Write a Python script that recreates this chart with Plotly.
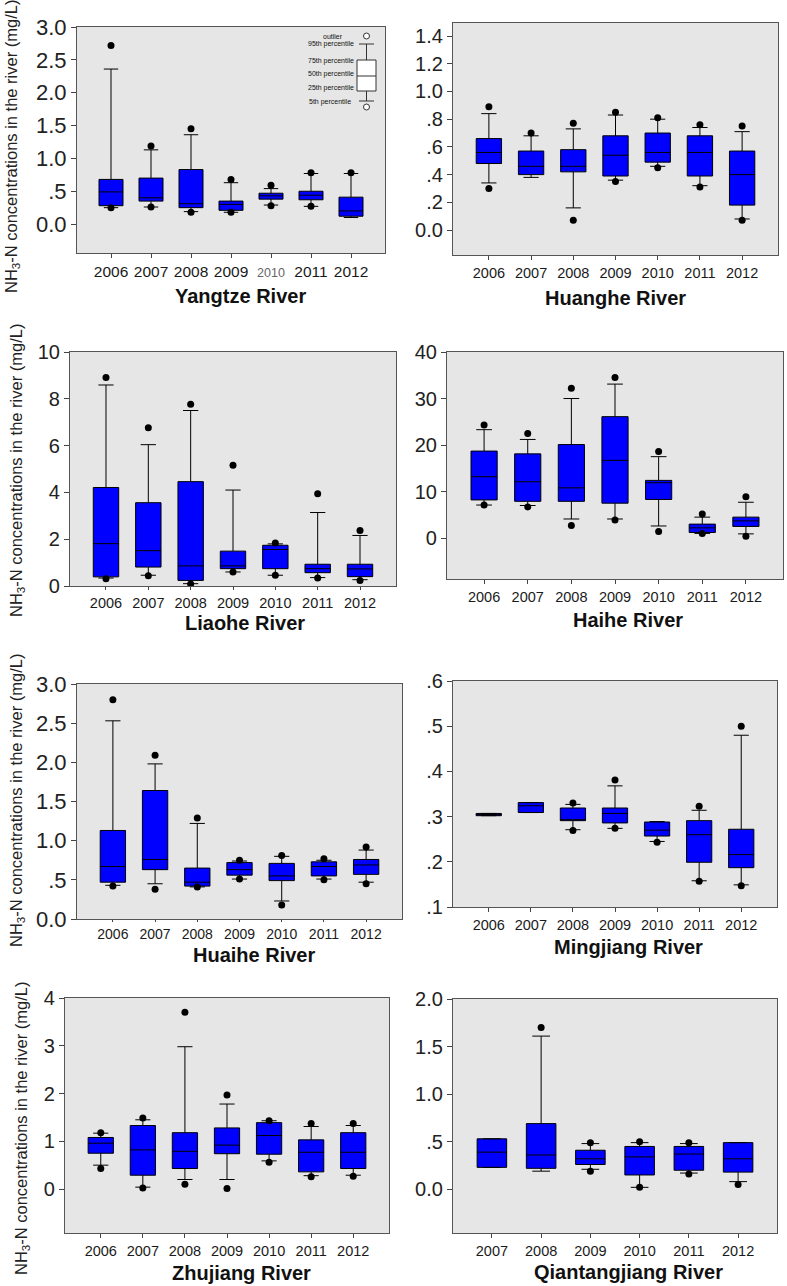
import plotly.graph_objects as go

W, H = 787, 1286

# ---------------- data ----------------
years7 = ["2006", "2007", "2008", "2009", "2010", "2011", "2012"]
years6 = ["2007", "2008", "2009", "2010", "2011", "2012"]

# Yangtze River
yangtze_p5 = [0.25, 0.26, 0.19, 0.18, 0.29, 0.27, 0.10]
yangtze_q1 = [0.28, 0.35, 0.25, 0.21, 0.38, 0.37, 0.12]
yangtze_med = [0.49, 0.40, 0.31, 0.30, 0.43, 0.44, 0.20]
yangtze_q3 = [0.68, 0.70, 0.83, 0.35, 0.47, 0.50, 0.41]
yangtze_p95 = [2.36, 1.13, 1.36, 0.63, 0.54, 0.77, 0.77]
yangtze_out_hi = [2.72, 1.19, 1.45, 0.68, 0.59, 0.78, 0.78]
yangtze_out_lo = [0.25, 0.26, 0.18, 0.18, 0.28, 0.27, None]

# Huanghe River
huanghe_p5 = [0.34, 0.38, 0.16, 0.36, 0.46, 0.32, 0.08]
huanghe_q1 = [0.48, 0.40, 0.42, 0.39, 0.49, 0.39, 0.18]
huanghe_med = [0.56, 0.46, 0.46, 0.54, 0.56, 0.56, 0.40]
huanghe_q3 = [0.66, 0.57, 0.58, 0.68, 0.70, 0.68, 0.57]
huanghe_p95 = [0.84, 0.68, 0.73, 0.83, 0.80, 0.74, 0.71]
huanghe_out_hi = [0.89, 0.70, 0.77, 0.85, 0.81, 0.76, 0.75]
huanghe_out_lo = [0.30, None, 0.07, 0.35, 0.45, 0.31, 0.07]

# Liaohe River
liaohe_p5 = [0.34, 0.46, 0.10, 0.60, 0.46, 0.36, 0.27]
liaohe_q1 = [0.39, 0.81, 0.24, 0.74, 0.74, 0.57, 0.40]
liaohe_med = [1.81, 1.51, 0.86, 0.86, 1.56, 0.74, 0.73]
liaohe_q3 = [4.21, 3.56, 4.46, 1.49, 1.74, 0.93, 0.93]
liaohe_p95 = [8.59, 6.04, 7.50, 4.10, 1.80, 3.14, 2.16]
liaohe_out_hi = [8.91, 6.76, 7.77, 5.16, 1.84, 3.94, 2.37]
liaohe_out_lo = [0.31, 0.44, 0.09, 0.60, 0.46, 0.34, 0.23]

# Haihe River
haihe_p5 = [7.1, 7.0, 4.1, 4.1, 2.6, 1.0, 0.9]
haihe_q1 = [8.2, 7.9, 7.9, 7.5, 8.3, 1.2, 2.5]
haihe_med = [13.2, 12.1, 10.8, 16.7, 11.9, 2.2, 3.7]
haihe_q3 = [18.7, 18.1, 20.1, 26.1, 12.4, 3.0, 4.5]
haihe_p95 = [23.3, 21.2, 30.0, 33.1, 17.5, 4.5, 7.7]
haihe_out_hi = [24.3, 22.5, 32.2, 34.5, 18.6, 5.2, 8.9]
haihe_out_lo = [7.1, 6.7, 2.7, 3.9, 1.4, 1.0, 0.4]

# Huaihe River
huaihe_p5 = [0.43, 0.45, 0.41, 0.51, 0.23, 0.51, 0.47]
huaihe_q1 = [0.47, 0.63, 0.42, 0.56, 0.49, 0.55, 0.57]
huaihe_med = [0.67, 0.76, 0.47, 0.63, 0.55, 0.67, 0.69]
huaihe_q3 = [1.13, 1.64, 0.65, 0.72, 0.71, 0.73, 0.76]
huaihe_p95 = [2.53, 1.98, 1.22, 0.74, 0.80, 0.75, 0.88]
huaihe_out_hi = [2.80, 2.09, 1.29, 0.75, 0.81, 0.77, 0.92]
huaihe_out_lo = [0.42, 0.38, 0.41, 0.51, 0.18, 0.50, 0.45]

# Mingjiang River
mingjiang_p5 = [0.302, 0.309, 0.271, 0.274, 0.245, 0.158, 0.149]
mingjiang_q1 = [0.302, 0.309, 0.291, 0.286, 0.257, 0.199, 0.187]
mingjiang_med = [0.305, 0.324, 0.292, 0.307, 0.270, 0.260, 0.216]
mingjiang_q3 = [0.307, 0.331, 0.319, 0.319, 0.288, 0.291, 0.272]
mingjiang_p95 = [0.307, 0.331, 0.327, 0.368, 0.289, 0.314, 0.480]
mingjiang_out_hi = [None, None, 0.330, 0.381, None, 0.323, 0.500]
mingjiang_out_lo = [None, None, 0.269, 0.274, 0.243, 0.157, 0.147]

# Zhujiang River
zhujiang_p5 = [0.50, 0.04, 0.20, 0.20, 0.59, 0.28, 0.29]
zhujiang_q1 = [0.75, 0.29, 0.43, 0.74, 0.73, 0.36, 0.43]
zhujiang_med = [0.96, 0.82, 0.79, 0.92, 1.12, 0.77, 0.77]
zhujiang_q3 = [1.08, 1.33, 1.18, 1.28, 1.39, 1.03, 1.18]
zhujiang_p95 = [1.17, 1.45, 2.98, 1.78, 1.43, 1.31, 1.33]
zhujiang_out_hi = [1.18, 1.49, 3.70, 1.97, 1.43, 1.37, 1.37]
zhujiang_out_lo = [0.43, 0.02, 0.10, 0.01, 0.56, 0.26, 0.27]

# Qiantangjiang River
qiantang_p5 = [0.23, 0.19, 0.21, 0.02, 0.17, 0.08]
qiantang_q1 = [0.23, 0.22, 0.26, 0.15, 0.20, 0.18]
qiantang_med = [0.39, 0.36, 0.32, 0.34, 0.37, 0.32]
qiantang_q3 = [0.53, 0.69, 0.41, 0.45, 0.45, 0.49]
qiantang_p95 = [0.53, 1.61, 0.48, 0.49, 0.48, 0.49]
qiantang_out_hi = [None, 1.70, 0.49, 0.50, 0.49, None]
qiantang_out_lo = [None, None, 0.19, 0.02, 0.16, 0.05]

# tick labels
yangtze_tickvals = [0, 0.5, 1.0, 1.5, 2.0, 2.5, 3.0]
yangtze_ticktext = ["0.0", ".5", "1.0", "1.5", "2.0", "2.5", "3.0"]
huanghe_tickvals = [0, 0.2, 0.4, 0.6, 0.8, 1.0, 1.2, 1.4]
huanghe_ticktext = ["0.0", ".2", ".4", ".6", ".8", "1.0", "1.2", "1.4"]
liaohe_tickvals = [0, 2, 4, 6, 8, 10]
liaohe_ticktext = ["0", "2", "4", "6", "8", "10"]
haihe_tickvals = [0, 10, 20, 30, 40]
haihe_ticktext = ["0", "10", "20", "30", "40"]
huaihe_tickvals = [0, 0.5, 1.0, 1.5, 2.0, 2.5, 3.0]
huaihe_ticktext = ["0.0", ".5", "1.0", "1.5", "2.0", "2.5", "3.0"]
mingjiang_tickvals = [0.1, 0.2, 0.3, 0.4, 0.5, 0.6]
mingjiang_ticktext = [".1", ".2", ".3", ".4", ".5", ".6"]
zhujiang_tickvals = [0, 1, 2, 3, 4]
zhujiang_ticktext = ["0", "1", "2", "3", "4"]
qiantang_tickvals = [0, 0.5, 1.0, 1.5, 2.0]
qiantang_ticktext = ["0.0", ".5", "1.0", "1.5", "2.0"]

ytitle = "NH<sub>3</sub>-N concentrations in the river (mg/L)"
legend_labels = ["outlier", "95th percentile", "75th percentile",
                 "50th percentile", "25th percentile", "5th percentile"]

FONT = "Arial, 'Liberation Sans', sans-serif"

panels = [
    dict(name="Yangtze River", x=years7, p5=yangtze_p5, q1=yangtze_q1, med=yangtze_med,
         q3=yangtze_q3, p95=yangtze_p95, hi=yangtze_out_hi, lo=yangtze_out_lo,
         tv=yangtze_tickvals, tt=yangtze_ticktext, xfs=15.5, tl=4,
         box=(77, 385, 27, 253), yr=[-0.44, 3.0], yfs=22, title_xy=(240, 296)),
    dict(name="Huanghe River", x=years7, p5=huanghe_p5, q1=huanghe_q1, med=huanghe_med,
         q3=huanghe_q3, p95=huanghe_p95, hi=huanghe_out_hi, lo=huanghe_out_lo,
         tv=huanghe_tickvals, tt=huanghe_ticktext, xfs=14.5, tl=4,
         box=(453, 778, 23, 255), yr=[-0.18, 1.494], yfs=20, title_xy=(615, 298)),
    dict(name="Liaohe River", x=years7, p5=liaohe_p5, q1=liaohe_q1, med=liaohe_med,
         q3=liaohe_q3, p95=liaohe_p95, hi=liaohe_out_hi, lo=liaohe_out_lo,
         tv=liaohe_tickvals, tt=liaohe_ticktext, xfs=14.5, tl=3,
         box=(70, 396, 352, 586), yr=[0, 10], yfs=20, title_xy=(245, 623)),
    dict(name="Haihe River", x=years7, p5=haihe_p5, q1=haihe_q1, med=haihe_med,
         q3=haihe_q3, p95=haihe_p95, hi=haihe_out_hi, lo=haihe_out_lo,
         tv=haihe_tickvals, tt=haihe_ticktext, xfs=14.5, tl=4,
         box=(447, 783, 352, 579), yr=[-8.8, 40], yfs=20, title_xy=(628, 620)),
    dict(name="Huaihe River", x=years7, p5=huaihe_p5, q1=huaihe_q1, med=huaihe_med,
         q3=huaihe_q3, p95=huaihe_p95, hi=huaihe_out_hi, lo=huaihe_out_lo,
         tv=huaihe_tickvals, tt=huaihe_ticktext, xfs=14, tl=2,
         box=(77, 402, 684, 919), yr=[0, 3.0], yfs=22, title_xy=(254, 955)),
    dict(name="Mingjiang River", x=years7, p5=mingjiang_p5, q1=mingjiang_q1, med=mingjiang_med,
         q3=mingjiang_q3, p95=mingjiang_p95, hi=mingjiang_out_hi, lo=mingjiang_out_lo,
         tv=mingjiang_tickvals, tt=mingjiang_ticktext, xfs=14.5, tl=4,
         box=(453, 777, 681, 907), yr=[0.1, 0.6], yfs=20, title_xy=(628, 947)),
    dict(name="Zhujiang River", x=years7, p5=zhujiang_p5, q1=zhujiang_q1, med=zhujiang_med,
         q3=zhujiang_q3, p95=zhujiang_p95, hi=zhujiang_out_hi, lo=zhujiang_out_lo,
         tv=zhujiang_tickvals, tt=zhujiang_ticktext, xfs=14.5, tl=4,
         box=(65, 389, 998, 1233), yr=[-0.92, 4], yfs=20, title_xy=(241, 1273)),
    dict(name="Qiantangjiang River", x=years6, p5=qiantang_p5, q1=qiantang_q1, med=qiantang_med,
         q3=qiantang_q3, p95=qiantang_p95, hi=qiantang_out_hi, lo=qiantang_out_lo,
         tv=qiantang_tickvals, tt=qiantang_ticktext, xfs=14.5, tl=4,
         box=(453, 777, 999, 1233), yr=[-0.46, 2.0], yfs=20, title_xy=(628, 1272)),
]


def px(x):
    return x / W


def py(y):
    return 1 - y / H


fig = go.Figure()
annotations = []
shapes = []

for i, p in enumerate(panels, start=1):
    xa = "x" if i == 1 else f"x{i}"
    ya = "y" if i == 1 else f"y{i}"
    fig.add_trace(go.Box(
        x=p["x"], q1=p["q1"], median=p["med"], q3=p["q3"],
        lowerfence=p["p5"], upperfence=p["p95"],
        xaxis=xa, yaxis=ya, width=0.6, whiskerwidth=0.6,
        fillcolor="#0000FF", line=dict(color="#000000", width=1),
        boxpoints=False, showlegend=False, hoverinfo="skip",
    ))
    ox = p["x"] + p["x"]
    oy = p["hi"] + p["lo"]
    fig.add_trace(go.Scatter(
        x=ox, y=oy, mode="markers", xaxis=xa, yaxis=ya,
        marker=dict(color="#000000", size=7), showlegend=False, hoverinfo="skip",
    ))
    x0, x1, y0, y1 = p["box"]
    n = len(p["x"])
    pad = 0.85 if n == 7 else 0.79
    tick_text = list(p["x"])
    if i == 1:
        tick_text = [t if t != "2010" else
                     "<span style='font-size:12.5px;fill:#666666'>2010</span>" for t in tick_text]
    fig.layout[f"xaxis{'' if i == 1 else i}"] = dict(
        domain=[px(x0), px(x1)], anchor=ya, type="category",
        range=[-pad, n - 1 + pad], tickmode="array", tickvals=p["x"], ticktext=tick_text,
        ticks="outside", ticklen=p["tl"], tickcolor="#444444",
        tickfont=dict(family=FONT, size=p["xfs"], color="#1a1a1a"),
        showline=True, mirror=True, linecolor="#555555", linewidth=1.2,
        showgrid=False, zeroline=False, fixedrange=True, automargin=False,
    )
    fig.layout[f"yaxis{'' if i == 1 else i}"] = dict(
        domain=[py(y1), py(y0)], anchor=xa, range=p["yr"],
        tickmode="array", tickvals=p["tv"], ticktext=p["tt"],
        ticks="outside", ticklen=5, tickcolor="#444444",
        tickfont=dict(family=FONT, size=p["yfs"], color="#222222"),
        showline=True, mirror=True, linecolor="#555555", linewidth=1.2,
        showgrid=False, zeroline=False, fixedrange=True, automargin=False,
    )
    tx, ty = p["title_xy"]
    annotations.append(dict(
        text=f"<b>{p['name']}</b>", x=px(tx), y=py(ty), xref="paper", yref="paper",
        showarrow=False, xanchor="center", yanchor="middle", borderpad=0,
        font=dict(family=FONT, size=20, color="#111111"),
    ))

# y-axis titles of left column
for (cx, cy) in [(12, 147), (17, 471), (17, 801), (22, 1129)]:
    annotations.append(dict(
        text=ytitle, x=px(cx), y=py(cy), xref="paper", yref="paper",
        showarrow=False, textangle=-90, xanchor="center", yanchor="middle",
        font=dict(family=FONT, size=16.5, color="#222222"),
    ))

# legend key (Yangtze panel)
kc = 366.5
lc = "#333333"
shapes += [
    dict(type="line", xref="paper", yref="paper", x0=px(kc), x1=px(kc), y0=py(44), y1=py(101),
         line=dict(color=lc, width=1)),
    dict(type="rect", xref="paper", yref="paper", x0=px(357), x1=px(376), y0=py(60), y1=py(91),
         line=dict(color=lc, width=1), fillcolor="#FFFFFF"),
    dict(type="line", xref="paper", yref="paper", x0=px(357), x1=px(376), y0=py(76), y1=py(76),
         line=dict(color=lc, width=1)),
    dict(type="line", xref="paper", yref="paper", x0=px(359), x1=px(374), y0=py(44), y1=py(44),
         line=dict(color=lc, width=1)),
    dict(type="line", xref="paper", yref="paper", x0=px(359), x1=px(374), y0=py(101), y1=py(101),
         line=dict(color=lc, width=1)),
    dict(type="circle", xref="paper", yref="paper", x0=px(kc - 3), x1=px(kc + 3),
         y0=py(39), y1=py(33), line=dict(color=lc, width=1), fillcolor="#FFFFFF"),
    dict(type="circle", xref="paper", yref="paper", x0=px(kc - 3), x1=px(kc + 3),
         y0=py(110), y1=py(104), line=dict(color=lc, width=1), fillcolor="#FFFFFF"),
]
for lab, ly, lx, anc in zip(legend_labels, [36, 44, 61, 74, 88, 102],
                             [333, 356, 356, 356, 356, 353],
                             ["center", "right", "right", "right", "right", "right"]):
    annotations.append(dict(
        text=lab, x=px(lx), y=py(ly), xref="paper", yref="paper", showarrow=False,
        xanchor=anc, yanchor="middle", font=dict(family=FONT, size=7, color="#111111"),
    ))

fig.update_layout(
    width=W, height=H, margin=dict(l=0, r=0, t=0, b=0, pad=0, autoexpand=False),
    paper_bgcolor="#FFFFFF", plot_bgcolor="#E6E6E6",
    annotations=annotations, shapes=shapes, showlegend=False,
    font=dict(family=FONT),
)

fig.write_html(
    "out.html",
    config={"displayModeBar": False},
    post_script="document.body.style.margin='0';document.body.style.padding='0';"
                "document.documentElement.style.overflow='hidden';",
)
